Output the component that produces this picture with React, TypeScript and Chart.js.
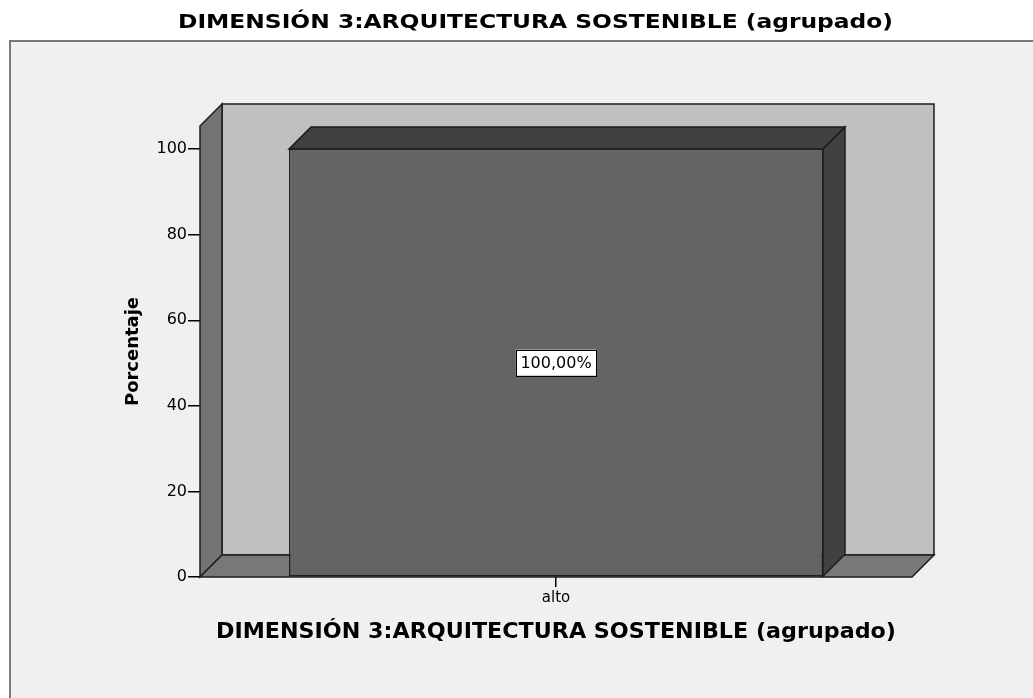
import React, { useEffect, useRef } from 'react';
import { Chart, registerables } from 'chart.js';

Chart.register(...registerables);

// ---- data ----
const categories: string[] = ['alto'];
const percentages: number[] = [100];
const yTickValues: number[] = [0, 20, 40, 60, 80, 100];
const yMax = 105.4;
const chartTitle = 'DIMENSIÓN 3:ARQUITECTURA SOSTENIBLE (agrupado)';
const xAxisTitle = 'DIMENSIÓN 3:ARQUITECTURA SOSTENIBLE (agrupado)';
const yAxisTitle = 'Porcentaje';

const W = 1033;
const H = 698;
const DEPTH = 22;
const EDGE = '#1e1e1e';
const FONT = '"DejaVu Sans", "Liberation Sans", sans-serif';

function poly(ctx: CanvasRenderingContext2D, pts: number[][], fill: string) {
  ctx.beginPath();
  ctx.moveTo(pts[0][0], pts[0][1]);
  for (let i = 1; i < pts.length; i++) ctx.lineTo(pts[i][0], pts[i][1]);
  ctx.closePath();
  ctx.fillStyle = fill;
  ctx.fill();
  ctx.strokeStyle = EDGE;
  ctx.lineWidth = 1.5;
  ctx.lineJoin = 'miter';
  ctx.stroke();
}

function fittedText(
  ctx: CanvasRenderingContext2D,
  text: string,
  x: number,
  y: number,
  font: string,
  targetWidth: number,
  rotate: boolean
) {
  ctx.save();
  ctx.font = font;
  const w = ctx.measureText(text).width;
  const sx = targetWidth / w;
  ctx.translate(x, y);
  if (rotate) ctx.rotate(-Math.PI / 2);
  ctx.scale(sx, 1);
  ctx.fillStyle = '#000';
  ctx.textAlign = 'center';
  ctx.textBaseline = 'alphabetic';
  ctx.fillText(text, 0, 0);
  ctx.restore();
}

const sceneryPlugin = {
  id: 'scenery3d',
  beforeDraw(chart: any) {
    const ctx: CanvasRenderingContext2D = chart.ctx;
    ctx.save();
    ctx.fillStyle = '#ffffff';
    ctx.fillRect(0, 0, chart.width, chart.height);
    ctx.fillStyle = '#f0f0f0';
    ctx.fillRect(10, 41, chart.width, chart.height);
    ctx.strokeStyle = '#7a7a7a';
    ctx.lineWidth = 2;
    ctx.beginPath();
    ctx.moveTo(10, chart.height + 5);
    ctx.lineTo(10, 41);
    ctx.lineTo(chart.width + 5, 41);
    ctx.stroke();
    ctx.restore();
  },
  beforeDatasetsDraw(chart: any) {
    const ctx: CanvasRenderingContext2D = chart.ctx;
    const { left, right, top, bottom } = chart.chartArea;
    const d = DEPTH;
    ctx.save();
    // back wall
    poly(ctx, [[left + d, top - d], [right + d, top - d], [right + d, bottom - d], [left + d, bottom - d]], '#c0c0c0');
    // left wall
    poly(ctx, [[left, top], [left + d, top - d], [left + d, bottom - d], [left, bottom]], '#737373');
    // floor
    poly(ctx, [[left, bottom], [left + d, bottom - d], [right + d, bottom - d], [right, bottom]], '#787878');
    ctx.restore();
  },
  afterDatasetsDraw(chart: any) {
    const ctx: CanvasRenderingContext2D = chart.ctx;
    const d = DEPTH;
    const meta = chart.getDatasetMeta(0);
    ctx.save();
    meta.data.forEach((bar: any, i: number) => {
      const { x, y, base, width } = bar.getProps(['x', 'y', 'base', 'width'], true);
      const l = x - width / 2;
      const r = x + width / 2;
      // top face
      poly(ctx, [[l, y], [l + d, y - d], [r + d, y - d], [r, y]], '#404040');
      // right side face
      poly(ctx, [[r, y], [r + d, y - d], [r + d, base - d], [r, base]], '#404040');
      // value label
      const v = percentages[i];
      const label = v.toFixed(2).replace('.', ',') + '%';
      ctx.font = '16px ' + FONT;
      const tw = ctx.measureText(label).width;
      const bw = tw + 9;
      const bh = 26;
      const cy = (y + base) / 2;
      ctx.fillStyle = '#ffffff';
      ctx.fillRect(x - bw / 2, cy - bh / 2, bw, bh);
      ctx.strokeStyle = '#000';
      ctx.lineWidth = 1;
      ctx.strokeRect(Math.round(x - bw / 2) + 0.5, Math.round(cy - bh / 2) + 0.5, Math.round(bw), bh);
      ctx.fillStyle = '#000';
      ctx.textAlign = 'center';
      ctx.textBaseline = 'middle';
      ctx.fillText(label, x, cy + 1);
    });
    ctx.restore();
  },
  afterDraw(chart: any) {
    const ctx: CanvasRenderingContext2D = chart.ctx;
    const { left, right, top, bottom } = chart.chartArea;
    fittedText(ctx, chartTitle, 535.5, 27.5, 'bold 20px ' + FONT, 715, false);
    fittedText(ctx, xAxisTitle, (left + right) / 2, 638, 'bold 20.5px ' + FONT, 680, false);
    fittedText(ctx, yAxisTitle, 138, (top + bottom) / 2, 'bold 18px ' + FONT, 109, true);
  },
};

export default function App() {
  const ref = useRef<HTMLCanvasElement | null>(null);

  useEffect(() => {
    if (!ref.current) return;
    const chart = new Chart(ref.current, {
      type: 'bar',
      data: {
        labels: categories,
        datasets: [
          {
            label: yAxisTitle,
            data: percentages,
            backgroundColor: '#646464',
            borderColor: EDGE,
            borderWidth: 1.5,
            borderSkipped: false,
            categoryPercentage: 1,
            barPercentage: 0.75,
          },
        ],
      },
      options: {
        responsive: false,
        animation: false,
        devicePixelRatio: 1,
        layout: { padding: { left: 0, top: 126, right: 121, bottom: 0 } },
        plugins: {
          legend: { display: false },
          title: { display: false },
          tooltip: { enabled: false },
        },
        scales: {
          x: {
            type: 'category',
            offset: true,
            border: { display: false },
            grid: {
              offset: false,
              drawOnChartArea: false,
              drawTicks: true,
              tickLength: 10,
              color: '#000',
              lineWidth: 1.5,
            },
            ticks: {
              color: '#000',
              font: { family: FONT, size: 15 },
              padding: 2,
              maxRotation: 0,
            },
            afterFit: (scale: any) => {
              scale.height = 121;
            },
          },
          y: {
            type: 'linear',
            min: 0,
            max: yMax,
            border: { display: false },
            grid: {
              drawOnChartArea: false,
              drawTicks: true,
              tickLength: 12,
              color: '#000',
              lineWidth: 1.5,
            },
            ticks: {
              color: '#000',
              font: { family: FONT, size: 16 },
              padding: 1,
            },
            afterBuildTicks: (scale: any) => {
              scale.ticks = yTickValues.map((v) => ({ value: v }));
            },
            afterFit: (scale: any) => {
              scale.width = 200;
            },
          },
        },
      },
      plugins: [sceneryPlugin],
    });
    return () => chart.destroy();
  }, []);

  return (
    <div style={{ position: 'absolute', left: 0, top: 0, width: W, height: H }}>
      <canvas ref={ref} width={W} height={H} style={{ display: 'block' }} />
    </div>
  );
}
